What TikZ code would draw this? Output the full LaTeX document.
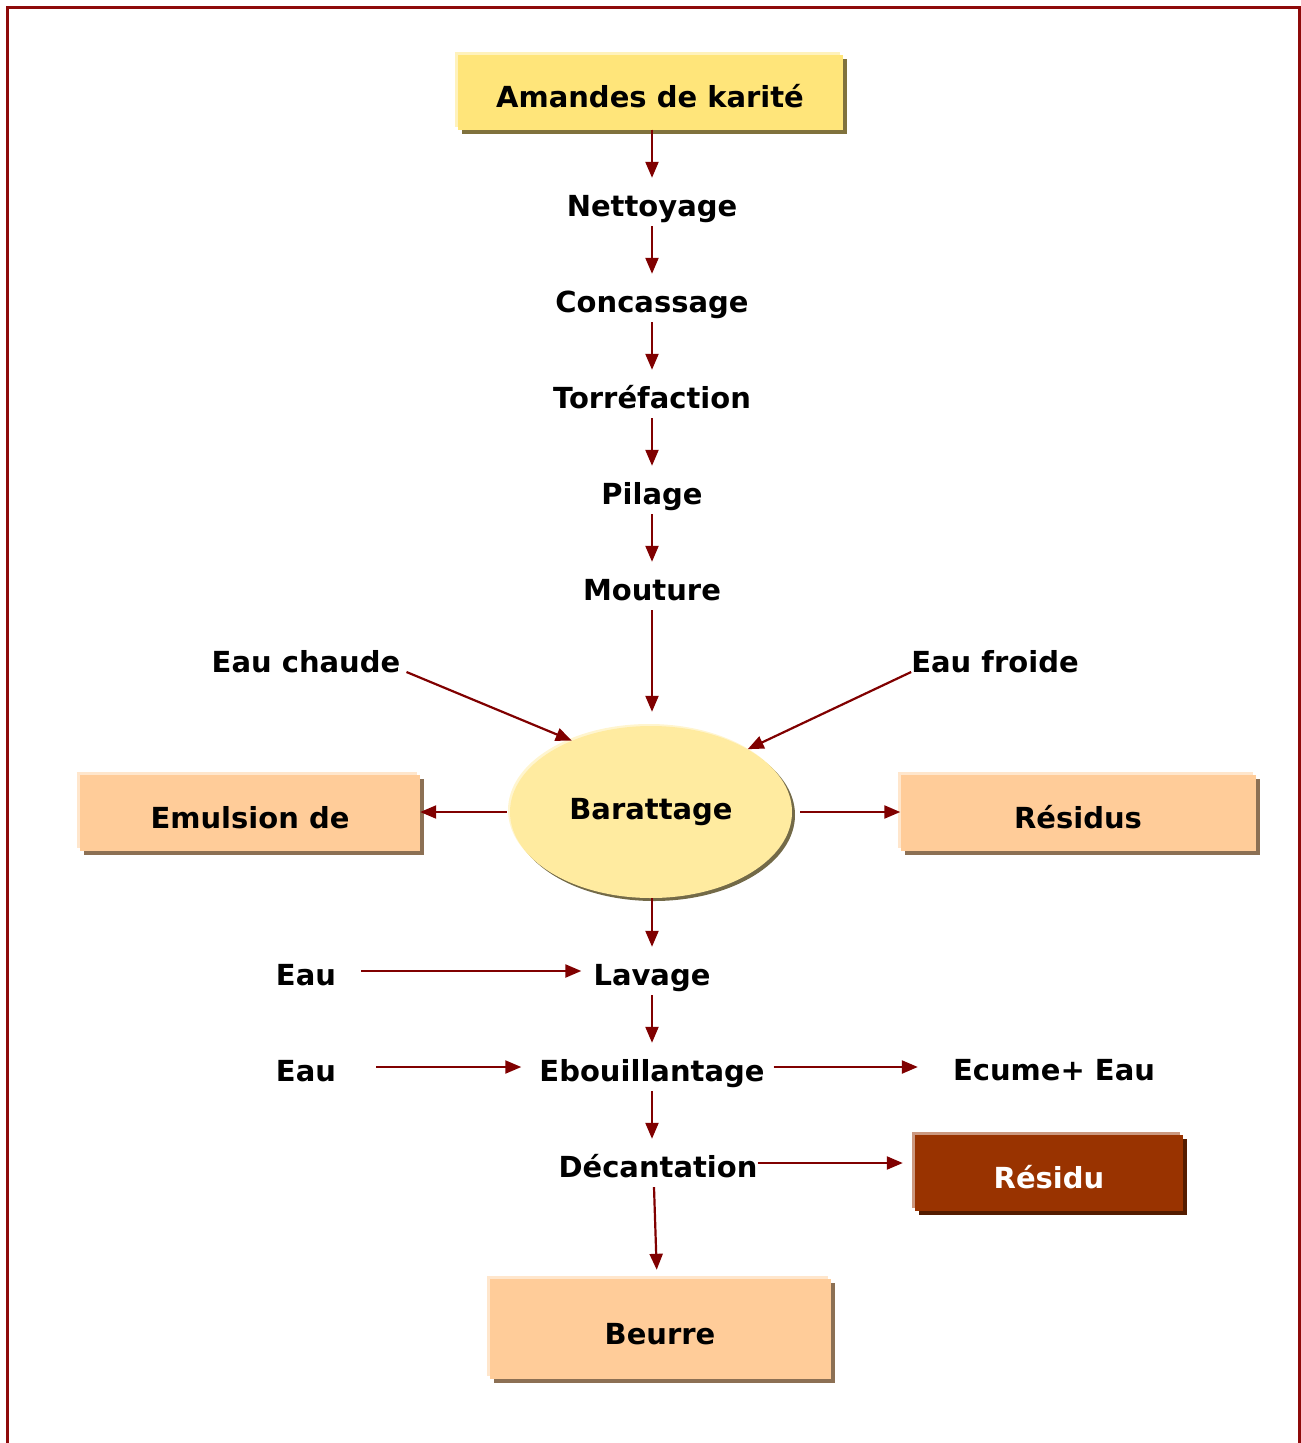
\documentclass[tikz,border=0pt]{standalone}
\usepackage{fontspec}
\setmainfont{DejaVu Sans}
\usetikzlibrary{arrows.meta,shapes.geometric,shadows}
\definecolor{flowred}{HTML}{800000}
\definecolor{frame}{HTML}{8E0A0A}
\definecolor{amande}{HTML}{FFE57A}
\definecolor{peach}{HTML}{FFCC99}
\definecolor{rust}{HTML}{993300}
\definecolor{cream}{HTML}{FFEBA0}

\begin{document}
\begin{tikzpicture}[x=1pt,y=-1pt,>={Triangle[length=16pt,width=13pt]},
  flow/.style={->,draw=flowred,fill=flowred,line width=2.2pt},
  txt/.style={font=\fontsize{29}{34}\selectfont\bfseries},
  stepname/.style={txt,text height=38pt,text depth=10pt,inner sep=0pt,anchor=base},
  box/.style={rectangle,txt,inner sep=0pt,text height=36pt,text depth=6pt},
  yellowbox/.style={box,fill=amande,
    general shadow={shadow xshift=-3pt,shadow yshift=3pt,fill=amande!50!white},
    drop shadow={shadow xshift=4pt,shadow yshift=-4pt,fill=amande!50!black,opacity=1}},
  peachbox/.style={box,fill=peach,
    general shadow={shadow xshift=-3pt,shadow yshift=3pt,fill=peach!50!white},
    drop shadow={shadow xshift=4pt,shadow yshift=-4pt,fill=peach!55!black,opacity=1}},
  rustbox/.style={box,fill=rust,text=white,
    general shadow={shadow xshift=-3pt,shadow yshift=3pt,fill=rust!50!white},
    drop shadow={shadow xshift=4pt,shadow yshift=-4pt,fill=rust!55!black,opacity=1}}]
  \useasboundingbox (0,0) rectangle (1301,1443);
  \draw[frame,line width=3pt] (7,1443) -- (7,7) -- (1299,7) -- (1299,1443);

  % main line
  \node[yellowbox,minimum width=385pt,minimum height=75pt] (amandes) at (650,92) {Amandes de karité};
  \node[stepname] (nett) at (652,216) {Nettoyage};
  \node[stepname] (conc) at (652,312) {Concassage};
  \node[stepname] (torr) at (652,408) {Torréfaction};
  \node[stepname] (pil) at (652,504) {Pilage};
  \node[stepname] (mout) at (652,600) {Mouture};
  \node[ellipse,txt,fill=cream,minimum width=282pt,minimum height=172pt,inner sep=0pt,
    general shadow={shadow xshift=-2pt,shadow yshift=2pt,fill=cream!50!white},
    drop shadow={shadow xshift=3pt,shadow yshift=-3pt,fill=cream!45!black,opacity=1}]
    (bar) at (651,812) {Barattage};
  \node[stepname] (lav) at (652,985) {Lavage};
  \node[stepname] (ebou) at (652,1081) {Ebouillantage};
  \node[stepname] (dec) at (658,1177) {Décantation};
  \node[peachbox,minimum width=341pt,minimum height=100pt] (beurre) at (660,1329) {Beurre};

  % entrees et sorties
  \node[stepname] (chaude) at (306,672) {Eau chaude};
  \node[stepname] (froide) at (995,672) {Eau froide};
  \node[peachbox,minimum width=340pt,minimum height=76pt] (emul) at (250,813) {Emulsion de};
  \node[peachbox,minimum width=355pt,minimum height=76pt] (res) at (1078,813) {Résidus};
  \node[stepname] (eaua) at (306,985) {Eau};
  \node[stepname] (eaub) at (306,1081) {Eau};
  \node[stepname] (ecume) at (1054,1080) {Ecume+ Eau};
  \node[rustbox,minimum width=268pt,minimum height=76pt] (resid) at (1049,1173) {Résidu};

  \draw[flow] (amandes.south -| nett.south) -- (nett.north);
  \draw[flow] (nett) -- (conc);
  \draw[flow] (conc) -- (torr);
  \draw[flow] (torr) -- (pil);
  \draw[flow] (pil) -- (mout);
  \draw[flow,shorten >=14pt] (mout) -- (mout |- bar.north);
  \draw[flow] ([xshift=6pt]chaude.base east) -- (bar.138);
  \draw[flow] (froide.base west) -- (bar.33);
  \draw[flow,shorten <=3pt] (bar.west) -- (bar.west -| emul.east);
  \draw[flow,shorten <=8pt] (bar.east) -- (bar.east -| res.west);
  \draw[flow] (lav |- bar.south) -- (lav);
  \draw[flow,shorten <=25pt,shorten >=12pt] (eaua.east) -- (lav.west);
  \draw[flow] (lav) -- (ebou);
  \draw[flow,shorten <=40pt,shorten >=18pt] (eaub.east) -- (ebou.west);
  \draw[flow,shorten <=9pt,shorten >=35pt] (ebou.east) -- (ebou.east -| ecume.west);
  \draw[flow] (ebou) -- (ebou |- dec.north);
  \draw[flow,shorten >=12pt] (dec.east) -- (dec.east -| resid.west);
  \draw[flow,shorten >=9pt] ([xshift=-4pt]dec.south) -- ([xshift=-3pt]beurre.north);
\end{tikzpicture}
\end{document}
